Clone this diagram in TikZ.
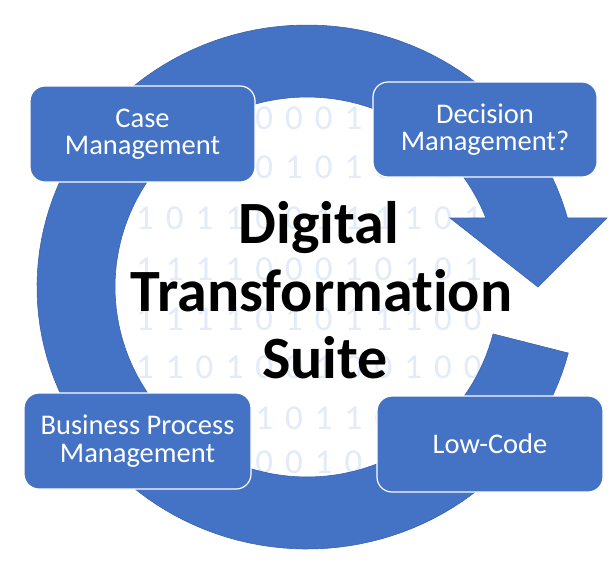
\documentclass[tikz,border=0pt]{standalone}
\usepackage{fontspec}
\setmainfont{Carlito}[Ligatures={NoCommon}]
\definecolor{ringblue}{HTML}{4472C4}
\definecolor{ringedge}{HTML}{3A63AD}
\definecolor{digitblue}{HTML}{E2EBF7}
\tikzset{
  binary/.style={text=digitblue, inner sep=0pt, font=\fontsize{35}{35}\selectfont},
  stage/.style={rectangle, rounded corners=15pt, fill=ringblue, draw=white, line width=1.2pt,
    text=white, align=center, inner sep=0pt, font=\fontsize{28.5}{27.5}\selectfont},
  titletext/.style={inner sep=0pt, anchor=base, text=black, font=\bfseries\fontsize{60}{67}\selectfont}
}
\begin{document}
\begin{tikzpicture}[x=1pt,y=-1pt]
\useasboundingbox (0,0) rectangle (610,566);
\fill[white] (0,0) rectangle (610,566);
% binary background inside the ring
\begin{scope}
  \clip (307,287) ellipse [x radius=192pt, y radius=190pt];
  \foreach \yy/\digits [count=\r] in {
      118/{1,0,1,1,0,0,0,1,1,0,1,0},
      167/{1,1,0,1,0,1,0,1,0,0,1,1},
      218/{1,0,1,1,0,0,1,1,1,1,0,1},
      269/{1,1,1,1,0,0,0,1,0,1,0,1},
      319/{1,1,1,1,0,1,0,1,1,1,0,0},
      367/{1,1,0,1,0,0,1,0,0,1,0,0},
      418/{1,1,0,1,1,0,1,1,0,0,1,0},
      462/{0,1,1,0,0,0,1,0,1,1,0,1}} {
    \foreach \d [count=\k from 0] in \digits {
      \node[binary] (bit-\r-\k) at (145+29.8*\k, \yy) {\d};
    }
  }
\end{scope}
% circular arrow
\fill[ringblue, draw=ringedge, line width=0.6pt]
  plot[domain=14.6:344.7, samples=140] ({307+270*cos(\x)},{287+262*sin(\x)})
  -- (607,218) -- (538,287) -- (450,218)
  -- plot[domain=338.7:14.3, samples=140] ({307+192*cos(\x)},{287+190*sin(\x)})
  -- cycle;
% stage boxes
\node[stage, minimum width=225pt, minimum height=96pt] (case) at (142.5,134) {Case\\Management};
\node[stage, minimum width=224pt, minimum height=95pt] (decision) at (485,129.5) {Decision\\Management?};
\node[stage, minimum width=227pt, minimum height=96pt] (bpm) at (137.5,441) {Business Process\\Management};
\node[stage, minimum width=226pt, minimum height=96pt] (lowcode) at (490,444) {Low-Code};
% title
\node[titletext] (t1) at (319,243) {Digital};
\node[titletext] (t2) at (321.5,311) {Transformation};
\node[titletext] (t3) at (325,378) {Suite};
\end{tikzpicture}
\end{document}
